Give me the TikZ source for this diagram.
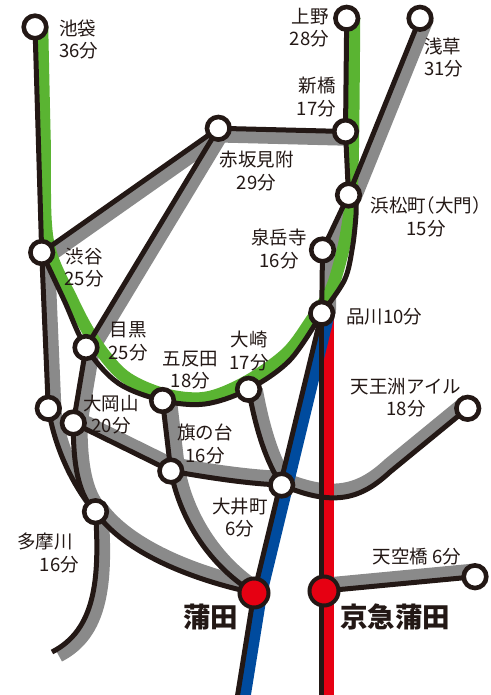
\documentclass[tikz,border=0pt]{standalone}
\usepackage{fontspec}
\newfontfamily\jp{Noto Sans CJK JP}
\newfontfamily\jphalt{Noto Sans CJK JP}[RawFeature=+halt]
\definecolor{ink}{HTML}{231815}
\definecolor{lgray}{HTML}{8A8A8A}
\definecolor{ygreen}{HTML}{5AB432}
\definecolor{kred}{HTML}{E60012}
\definecolor{kblue}{HTML}{004B9E}
\pgfdeclarelayer{bg}
\pgfdeclarelayer{bandlayer}
\pgfdeclarelayer{inklayer}
\pgfsetlayers{bg,bandlayer,inklayer,main}
\tikzset{
  band/.style={line width=12.5pt, line cap=butt, line join=round},
  inkline/.style={draw=ink, line width=5pt, line cap=butt, line join=round},
  stn/.style={circle, draw=ink, fill=white, line width=4.6pt, minimum size=22.6pt, inner sep=0pt},
  bigstn/.style={circle, draw=ink, fill=kred, line width=4pt, minimum size=29pt, inner sep=0pt},
  lbl/.style={font=\jp\fontsize{18.5}{22.5}\selectfont, text=ink, inner sep=0pt},
  biglbl/.style={font=\jp\bfseries\fontsize{27.5}{30}\selectfont, text=ink, inner sep=0pt}
}
\begin{document}
\begin{tikzpicture}[x=1pt,y=-1pt]
\useasboundingbox (0,0) rectangle (490,695);
\begin{pgfonlayer}{bg}
\fill[white] (0,0) rectangle (490,695);
\end{pgfonlayer}

% stations
\node[stn] (ikebukuro) at (35,27) {};
\node[stn] (ueno) at (346.7,18.3) {};
\node[stn] (asakusa) at (420,18.3) {};
\node[stn] (shimbashi) at (345.5,131.5) {};
\node[stn] (akasaka) at (218.3,128.3) {};
\node[stn] (hamamatsu) at (348.5,195) {};
\node[stn] (sengakuji) at (322.5,250) {};
\node[stn] (shinagawa) at (321.7,313.3) {};
\node[stn] (shibuya) at (41.7,252.5) {};
\node[stn] (meguro) at (86,347.5) {};
\node[stn] (gotanda) at (162.5,400.5) {};
\node[stn] (osaki) at (248.5,389.3) {};
\node[stn] (tokyuA) at (48.3,408.3) {};
\node[stn] (ookayama) at (73.3,423) {};
\node[stn] (hatanodai) at (170.8,471) {};
\node[stn] (oimachi) at (281.7,485) {};
\node[stn] (tennozu) at (467.7,408.3) {};
\node[stn] (tamagawa) at (95.5,511.7) {};
\node[stn] (tenkubashi) at (475,576.7) {};
\node[bigstn] (kamata) at (254,593) {};
\node[bigstn] (kkamata) at (324,591) {};
\coordinate (tamaend) at (52,652);
\coordinate (blueend) at (236,705);
\coordinate (redend) at (321.7,705);
\coordinate (rinkaibend) at (390,472);

% paths
\def\ginza{(shibuya.center) -- (akasaka.center) -- (shimbashi.center)}
\def\meguroline{(akasaka.center) -- (meguro.center) -- (ookayama.center) .. controls (73,470) and (80,497) .. (tamagawa.center)}
\def\toyoko{(shibuya.center) -- (tokyuA.center) .. controls (55,450) and (75,490) .. (tamagawa.center) .. controls (100,580) and (95,630) .. (tamaend)}
\def\oimachiline{(ookayama.center) -- (hatanodai.center) .. controls (210,478) and (250,484) .. (oimachi.center) .. controls (335,508) and (362,498) .. (rinkaibend) -- (tennozu.center)}
\def\rinkai{(osaki.center) .. controls (256,430) and (266,462) .. (oimachi.center)}
\def\ikegami{(gotanda.center) -- (hatanodai.center) .. controls (180,520) and (210,566) .. (kamata.center)}
\def\tamagawaline{(tamagawa.center) .. controls (120,548) and (180,577) .. (kamata.center)}
\def\asakusaline{(asakusa.center) -- (hamamatsu.center) -- (sengakuji.center) -- (shinagawa.center)}
\def\keihin{(shinagawa.center) -- (kamata.center) -- (blueend)}
\def\keikyu{(shinagawa.center) -- (redend)}
\def\airport{(kkamata.center) -- (tenkubashi.center)}

\begin{pgfonlayer}{bandlayer}
\draw[band, draw=lgray, transform canvas={xshift=2pt,yshift=-8pt}] \ginza;
\draw[band, draw=lgray, transform canvas={xshift=8pt}] \meguroline;
\draw[band, draw=lgray, transform canvas={xshift=7pt,yshift=-4pt}] \toyoko;
\draw[band, draw=lgray, transform canvas={xshift=-1pt,yshift=8pt}] \oimachiline;
\draw[band, draw=lgray, transform canvas={xshift=8pt}] \rinkai;
\draw[band, draw=lgray, transform canvas={xshift=8pt,yshift=2pt}] \ikegami;
\draw[band, draw=lgray, transform canvas={xshift=4pt,yshift=7pt}] \tamagawaline;
\draw[band, draw=lgray, transform canvas={xshift=8pt}] \asakusaline;
\draw[band, draw=lgray, transform canvas={yshift=7pt}] \airport;
\draw[band, draw=ygreen] plot[smooth, tension=0.55] coordinates {(42,27) (44.5,140) (47.5,240) (72,300) (95,342) (124,376) (163,394) (205,398) (246,382) (287,353) (313,318) (331,290) (343,250) (349,217) (351.5,195) (353,131) (354,18)};
\draw[band, draw=kred, transform canvas={xshift=6.5pt}] \keikyu;
\draw[band, draw=kblue, transform canvas={xshift=7pt}] \keihin;
\end{pgfonlayer}

\begin{pgfonlayer}{inklayer}
\draw[inkline] \ginza;
\draw[inkline] \meguroline;
\draw[inkline] \toyoko;
\draw[inkline] \oimachiline;
\draw[inkline] \rinkai;
\draw[inkline] \ikegami;
\draw[inkline] \tamagawaline;
\draw[inkline] \asakusaline;
\draw[inkline] \airport;
\draw[inkline] \keikyu;
\draw[inkline] \keihin;
\draw[inkline] (ikebukuro.center) -- (shibuya.center);
\draw[inkline] plot[smooth, tension=0.55] coordinates {(shibuya.center) (64,300) (meguro.center) (118,383) (gotanda.center) (205,404) (osaki.center) (290,360) (shinagawa.center)};
\draw[inkline] plot[smooth, tension=0.55] coordinates {(shinagawa.center) (344.5,280) (352.5,247) (356,215) (356,200)};
\draw[inkline] (hamamatsu.center) -- (shimbashi.center) -- (ueno.center);
\end{pgfonlayer}

% labels
\node[lbl, align=left, anchor=west] (l_ikebukuro) at (59,39.5) {池袋\\36分};
\node[lbl, align=right, anchor=east] (l_ueno) at (329,27.5) {上野\\28分};
\node[lbl, align=left, anchor=west] (l_asakusa) at (424,57.5) {浅草\\31分};
\node[lbl, align=right, anchor=east] (l_shimbashi) at (336,97) {新橋\\17分};
\node[lbl, align=center] (l_akasaka) at (256.5,171) {赤坂見附\\29分};
\node[lbl, align=center] (l_hamamatsu) at (426,217) {{\jphalt 浜松町（大門）}\\15分};
\node[lbl, align=center] (l_sengakuji) at (279,249) {泉岳寺\\16分};
\node[lbl, anchor=west] (l_shinagawa) at (346,317) {品川10分};
\node[lbl, align=center] (l_shibuya) at (84,267.5) {渋谷\\25分};
\node[lbl, align=center] (l_meguro) at (128,341.5) {目黒\\25分};
\node[lbl, align=center] (l_gotanda) at (190.5,370) {五反田\\18分};
\node[lbl, align=center] (l_osaki) at (249,351) {大崎\\17分};
\node[lbl, align=center] (l_ookayama) at (111,414.5) {大岡山\\20分};
\node[lbl, align=center] (l_hatanodai) at (205,444) {旗の台\\16分};
\node[lbl, align=center] (l_oimachi) at (240,517.5) {大井町\\6分};
\node[lbl, align=center] (l_tennozu) at (406,397.5) {天王洲アイル\\18分};
\node[lbl, align=right, anchor=east] (l_tamagawa) at (79,553) {多摩川\hbox to 6pt{}\\16分};
\node[lbl] (l_tenkubashi) at (417,556.5) {天空橋 6分};
\node[biglbl] (l_kamata) at (210.5,617.5) {蒲田};
\node[biglbl] (l_kkamata) at (395,616.5) {京急蒲田};
\end{tikzpicture}
\end{document}
